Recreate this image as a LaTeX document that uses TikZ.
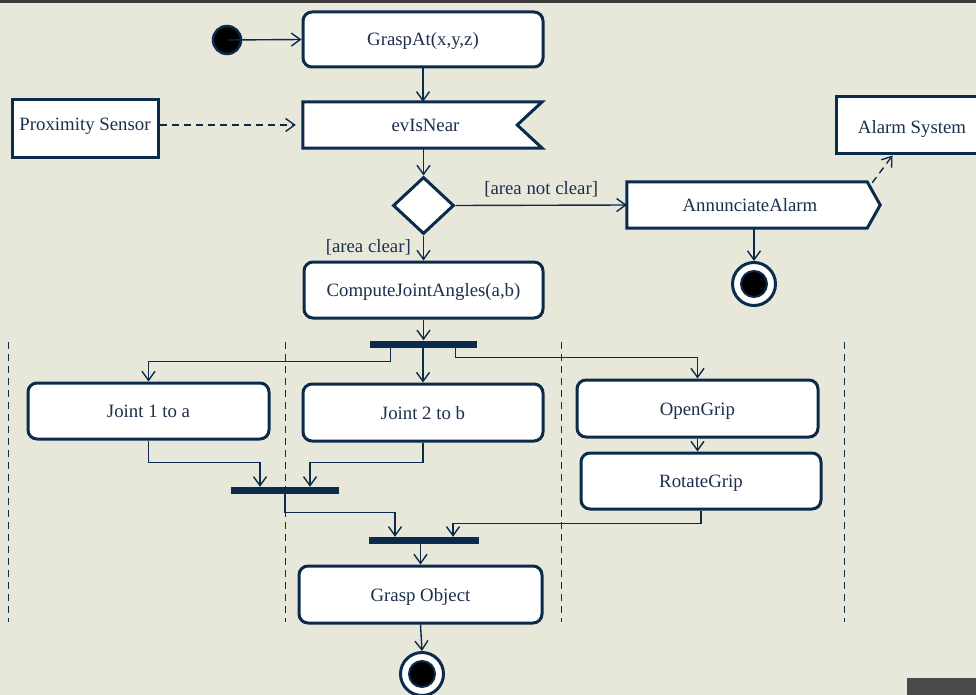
\documentclass[tikz,border=0pt]{standalone}
\usepackage{fontspec}
\setmainfont{Liberation Serif}
\usetikzlibrary{arrows.meta,shapes.geometric,calc}
\definecolor{navy}{HTML}{0B2B4C}
\definecolor{ink}{HTML}{1B2F4E}
\definecolor{paper}{HTML}{E8E8DA}
\definecolor{frame}{HTML}{4A4A4A}
\tikzset{
  >={Straight Barb[length=9pt,width=13pt]},
  every node/.style={font=\fontsize{18.8}{22}\selectfont, text=ink, inner sep=0pt},
  action/.style={draw=navy, line width=3pt, rounded corners=9pt, fill=white,
    text height=17pt, text depth=4pt},
  objbox/.style={draw=navy, line width=3pt, fill=white},
  bar/.style={fill=navy, draw=none, minimum height=7pt},
  flow/.style={draw=navy, line width=1.4pt},
  depend/.style={draw=navy, line width=1.4pt, dash pattern=on 7pt off 5pt},
  lane/.style={draw=navy, line width=1pt, dash pattern=on 7pt off 5pt},
  startnode/.style={circle, minimum size=28pt, fill=black, draw=navy, line width=2.5pt},
  endnode/.style={circle, minimum size=43pt, fill=white, draw=navy, line width=3pt,
    path picture={\fill[black, draw=navy, line width=2pt]
      (path picture bounding box.center) circle (13pt);}},
  guard/.style={font=\fontsize{18.8}{22}\selectfont},
}
\begin{document}
\begin{tikzpicture}[x=1pt,y=-1pt]
\useasboundingbox (0,0) rectangle (976,695);
\clip (0,0) rectangle (976,695);
\fill[paper] (0,0) rectangle (976,695);
\fill[frame!80!black] (0,0) rectangle (976,3);
\fill[frame] (907,678) rectangle (976,695);

% swimlane separators
\foreach \lx in {8,285,561,844}
  \draw[lane] (\lx,342) -- (\lx,622);

% nodes
\node[startnode] (init) at (227,40) {};
\node[action, minimum width=240pt, minimum height=55pt] (grasp) at (423,39.5) {GraspAt(x,y,z)};
\node[minimum width=239pt, minimum height=46pt] (evnear) at (422.5,125) {};
\draw[objbox, line join=miter] (evnear.north west) -- (evnear.north east)
  -- ($(evnear.east)+(-25,0)$) -- (evnear.south east) -- (evnear.south west) -- cycle;
\node at ($(evnear.center)+(3,0)$) {evIsNear};
\node[objbox, minimum width=146pt, minimum height=58pt, text height=14pt, text depth=10pt]
  (prox) at (85,129) {Proximity Sensor};
\node[diamond, draw=navy, line width=3pt, fill=white, minimum width=61pt,
  minimum height=57pt] (dec) at (423.5,205.5) {};
\node[minimum width=240pt, minimum height=46pt] (annunc) at (747,205) {};
\draw[objbox, line join=miter] (annunc.north west) -- (annunc.north east)
  -- ($(annunc.east)+(13,0)$) -- (annunc.south east) -- (annunc.south west) -- cycle;
\node at ($(annunc.center)+(3,0)$) {AnnunciateAlarm};
\node[objbox, minimum width=152pt, minimum height=57pt, text height=21pt, text depth=4pt]
  (alarm) at (912,125.5) {Alarm System};
\node[endnode] (fin1) at (754,284) {};
\node[action, minimum width=239pt, minimum height=56pt] (compute) at (423.5,290) {ComputeJointAngles(a,b)};
\node[bar, minimum width=107pt] (fork) at (423.5,344) {};
\node[action, minimum width=241pt, minimum height=56pt] (joint1) at (148.5,411) {Joint 1 to a};
\node[action, minimum width=240pt, minimum height=57pt] (joint2) at (423,412.5) {Joint 2 to b};
\node[action, minimum width=241pt, minimum height=57pt] (open) at (697.5,408.5) {OpenGrip};
\node[action, minimum width=240pt, minimum height=56pt] (rotate) at (701,481) {RotateGrip};
\node[bar, minimum width=108pt] (join1) at (285,490.5) {};
\node[bar, minimum width=110pt] (join2) at (424,540.5) {};
\node[action, minimum width=243pt, minimum height=57pt] (gobj) at (420.5,594.5) {Grasp Object};
\node[endnode] (fin2) at (422,674) {};

% control flow
\draw[flow,->] (init.center) -- (grasp.west);
\draw[flow,->] (grasp.south) -- (grasp.south |- evnear.north);
\draw[depend,->] (prox.east |- evnear.west) -- ([xshift=-7pt]evnear.west);
\draw[flow,->] (evnear.south -| dec.north) -- (dec.north);
\draw[flow,->] (dec.east) -- node[guard, above=8pt] {[area not clear]} (annunc.west);
\draw[flow,->] (dec.south) -- node[guard, left=12pt, pos=0.45] {[area clear]} (dec.south |- compute.north);
\draw[flow,->] (fin1.north |- annunc.south) -- (fin1.north);
\draw[depend,->] ($(annunc.north east)+(5,1)$) -- ($(alarm.south west)+(58,0)$);
\draw[flow,->] (compute.south) -- (fork.north);
\draw[flow,->] ([xshift=-33pt]fork.south) -- ++(0,14) -| (joint1.north);
\draw[flow,->] (fork.south -| joint2.north) -- (joint2.north);
\draw[flow,->] ([xshift=32pt]fork.south) -- ++(0,10) -| (open.north);
\draw[flow,->] (open.south) -- (open.south |- rotate.north);
\draw[flow,->] (joint1.south) -- ++(0,22) -| ([xshift=-25pt]join1.north);
\draw[flow,->] (joint2.south) -- ++(0,20) -| ([xshift=25pt]join1.north);
\draw[flow,->] (join1.south) -- ++(0,18) -| ([xshift=-29pt]join2.north);
\draw[flow,->] (rotate.south) -- ++(0,13) -| ([xshift=29pt]join2.north);
\draw[flow,->] (gobj.north |- join2.south) -- (gobj.north);
\draw[flow,->] (gobj.south) -- (fin2.north);
\end{tikzpicture}
\end{document}
